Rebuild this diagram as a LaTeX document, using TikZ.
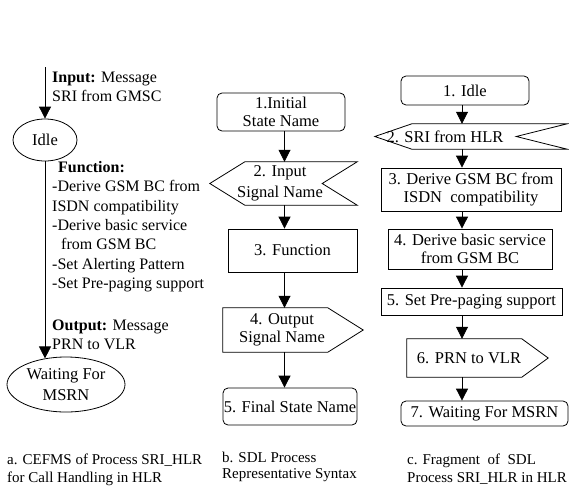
\documentclass[tikz,border=0pt]{standalone}
\usepackage{fontspec}
\setmainfont{Liberation Serif}
\usetikzlibrary{arrows.meta,calc,shapes.geometric}
\tikzset{
  lbl/.style={font=\fontsize{16}{19.3}\selectfont, align=left, inner sep=0pt, anchor=base west},
  captxt/.style={font=\fontsize{15}{18}\selectfont, align=left, inner sep=0pt, anchor=base west},
  bx/.style={draw, line width=0.8pt, inner sep=0pt, align=center, font=\fontsize{16.5}{18.5}\selectfont},
  rbx/.style={bx, rounded corners=5pt},
  sig/.style={inner sep=0pt, align=center, font=\fontsize{16.5}{18.5}\selectfont},
  ell/.style={draw, ellipse, line width=0.8pt, inner sep=0pt, align=center, font=\fontsize{16.5}{21}\selectfont},
  ln/.style={draw, line width=0.8pt},
  arr/.style={draw, line width=0.8pt, -{Triangle[width=12pt,length=12pt]}}
}
\begin{document}
\begin{tikzpicture}[x=1pt,y=-1pt]
\useasboundingbox (0,0) rectangle (569,487);

% ---------- a. left column ----------
\coordinate (ltop) at (45,67);
\node[ell, minimum width=64pt, minimum height=42pt] (idle) at (45,140) {Idle};
\node[ell, minimum width=118pt, minimum height=55pt] (wait) at (66,384.5) {Waiting For\\MSRN};
\draw[arr] (ltop) -- (idle.north);
\draw[arr] (idle.south) -- (idle.south |- wait.129);

% base west = baseline of the last line
\node[lbl] (inp) at (52,101.8) {\textbf{Input:} Message\\SRI from GMSC};
\node[lbl] (fun) at (52,288.3) {\hspace*{6pt}\textbf{Function:}\\-Derive GSM BC from\\ISDN compatibility\\-Derive basic service\\\hspace*{9pt}from GSM BC\\-Set Alerting Pattern\\-Set Pre-paging support};
\node[lbl] (outp) at (52,349.8) {\textbf{Output:} Message\\PRN to VLR};

% ---------- b. middle column ----------
\coordinate (mx) at (284.5,0);
\node[rbx, minimum width=128pt, minimum height=38pt] (m1) at (281,112) {1.Initial\\State Name};
\node[sig, minimum width=140pt, minimum height=43pt, font=\fontsize{16.5}{21.5}\selectfont] (m2) at (280,183.5) {2. Input\\Signal Name};
\draw[ln] ($(m2.north west)+(35,0)$) -- ($(m2.north east)+(7,0)$) -- ($(m2.east)+(-28,0)$) -- ($(m2.south east)+(7,0)$) -- ($(m2.south west)+(35,0)$) -- (m2.west) -- cycle;
\node[bx, minimum width=129pt, minimum height=43pt] (m3) at (292.5,250.5) {3. Function};
\node[sig, minimum width=118pt, minimum height=44pt] (m4) at (282,330) {4. Output\\Signal Name};
\draw[ln] (m4.north west) -- ($(m4.north west)+(105,0)$) -- ($(m4.east)+(22,0)$) -- ($(m4.south west)+(105,0)$) -- (m4.south west) -- cycle;
\node[rbx, minimum width=134pt, minimum height=37pt] (m5) at (290,406.5) {5. Final State Name};

\draw[arr] (m1.south -| mx) -- (m2.north -| mx);
\draw[arr] (m2.south -| mx) -- (m3.north -| mx);
\draw[arr] (m3.south -| mx) -- (m4.north -| mx);
\draw[arr] (m4.south -| mx) -- (m5.north -| mx);

% ---------- c. right column ----------
\coordinate (rx) at (462,0);
\node[rbx, minimum width=128pt, minimum height=29pt] (r1) at (465,90.5) {1. Idle};
\node[sig, minimum width=140pt, minimum height=25pt] (r2) at (445,136.5) {2. SRI from HLR};
\draw[ln] ($(r2.north west)+(37,0)$) -- ($(r2.north east)+(52,0)$) -- ($(r2.east)+(1,0)$) -- ($(r2.south east)+(52,0)$) -- ($(r2.south west)+(37,0)$) -- (r2.west) -- cycle;
\node[bx, minimum width=180pt, minimum height=43pt] (r3) at (471,189.5) {3. Derive GSM BC from\\ISDN\ \ compatibility};
\node[bx, minimum width=164pt, minimum height=40pt] (r4) at (470,249) {4. Derive basic service\\from GSM BC};
\node[bx, minimum width=181pt, minimum height=27pt] (r5) at (471.5,301.5) {5. Set Pre-paging support};
\node[sig, minimum width=124pt, minimum height=38pt] (r6) at (469,358) {6. PRN to VLR};
\draw[ln] (r6.north west) -- ($(r6.north west)+(115,0)$) -- ($(r6.east)+(17,0)$) -- ($(r6.south west)+(115,0)$) -- (r6.south west) -- cycle;
\node[rbx, minimum width=167pt, minimum height=25pt] (r7) at (484.5,413.5) {7. Waiting For MSRN};

\draw[arr] (r1.south -| rx) -- (r2.north -| rx);
\draw[arr] (r2.south -| rx) -- (r3.north -| rx);
\draw[arr] (r3.south -| rx) -- (r4.north -| rx);
\draw[arr] (r4.south -| rx) -- (r5.north -| rx);
\draw[arr] (r5.south -| rx) -- (r6.north -| rx);
\draw[arr] (r6.south -| rx) -- (r7.north -| rx);

% ---------- captions ----------
\node[captxt] (capa) at (7,482) {a. CEFMS of Process SRI\_HLR\\for Call Handling in HLR};
\node[captxt, font=\fontsize{15}{16.5}\selectfont] (capb) at (222,478.5) {b. SDL Process\\Representative Syntax};
\node[captxt] (capc) at (407,482) {c. Fragment\ \ of\ \ SDL\\Process SRI\_HLR in HLR};
\end{tikzpicture}
\end{document}
